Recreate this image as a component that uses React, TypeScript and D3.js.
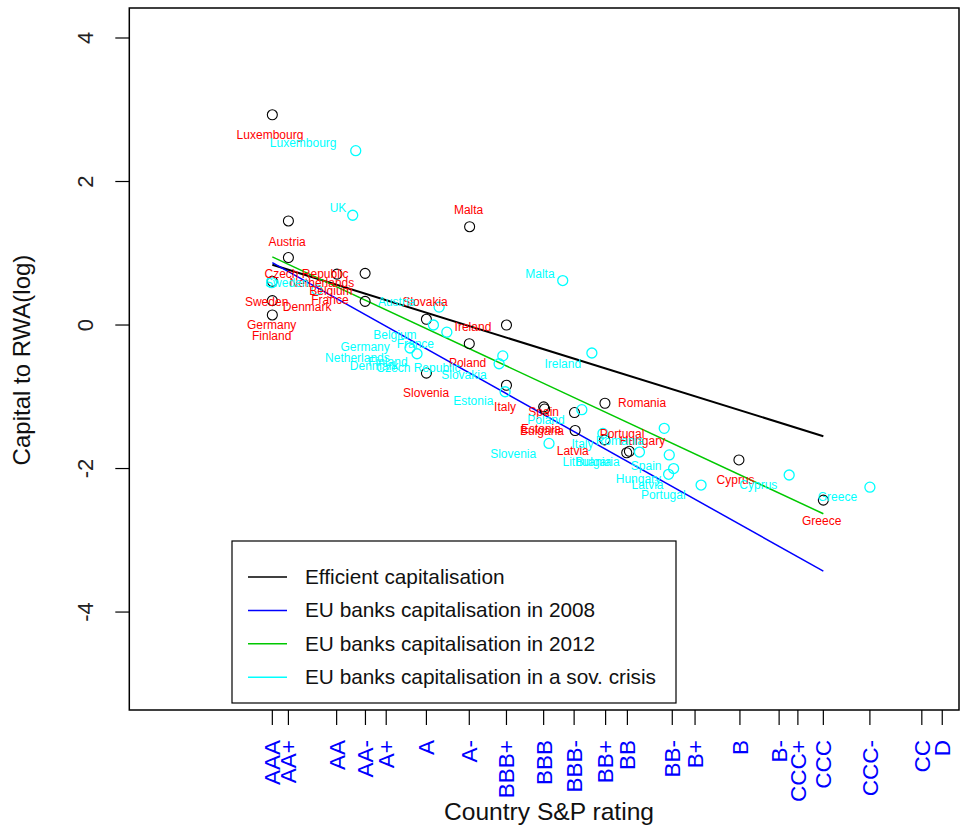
import React from "react";
import * as d3 from "d3";

// ---- Data ----
const ratingLabels = ["AAA","AA+","AA","AA-","A+","A","A-","BBB+","BBB","BBB-","BB+","BB","BB-","B+","B","B-","CCC+","CCC","CCC-","CC","D"];
const ratingScores = [0,0.48,1.92,2.78,3.40,4.60,5.88,6.99,8.10,9.01,9.95,10.60,11.94,12.62,13.96,15.13,15.69,16.45,17.84,19.39,20.00];

const yTicks = [-4,-2,0,2,4];

// Efficient capitalisation (black circles)
const effX = [0,0.48,0.48,0,0,0,1.93,2.77,2.77,4.60,4.60,5.89,5.88,6.99,6.99,8.10,8.13,9.02,9.04,9.93,9.92,10.58,10.66,13.93,16.45];
const effY = [2.93,1.45,0.94,0.61,0.34,0.14,0.71,0.72,0.33,0.08,-0.67,1.37,-0.26,0.00,-0.84,-1.14,-1.17,-1.22,-1.47,-1.09,-1.60,-1.78,-1.76,-1.88,-2.44];

// Country labels, 2008 (red)
const redNames = ["Luxembourg","Austria","Malta","Czech Republic","Netherlands","Belgium","France","Sweden","Denmark","Germany","Finland","Slovakia","Ireland","Poland","Slovenia","Italy","Spain","Estonia","Bulgaria","Romania","Portugal","Hungary","Latvia","Cyprus","Greece"];
const redX = [-0.07,0.44,5.86,1.02,1.48,1.75,1.72,-0.17,1.04,-0.02,-0.02,4.56,5.99,5.83,4.59,6.95,8.10,8.02,8.05,11.04,10.44,11.05,8.97,13.83,16.40];
const redY = [2.65,1.16,1.60,0.71,0.59,0.47,0.35,0.33,0.26,0.00,-0.15,0.33,-0.03,-0.53,-0.95,-1.14,-1.21,-1.44,-1.47,-1.09,-1.51,-1.61,-1.75,-2.16,-2.73];

// Sovereign crisis (cyan circles)
const sovX = [2.49,2.40,8.67,-0.02,1.33,4.98,4.81,5.21,4.11,4.32,6.88,6.77,9.54,6.95,8.26,9.24,9.87,10.96,11.70,11.85,11.98,11.83,12.80,15.43,17.84];
const sovY = [2.43,1.53,0.62,0.59,0.49,0.25,0.00,-0.10,-0.32,-0.40,-0.43,-0.54,-0.39,-0.93,-1.65,-1.18,-1.51,-1.77,-1.44,-1.81,-2.00,-2.08,-2.23,-2.09,-2.26];

// Country labels, sovereign crisis (cyan)
const cyanNames = ["Luxembourg","UK","Malta","Sweden","Austria","Belgium","Germany","France","Netherlands","Finland","Denmark","Czech Republic","Slovakia","Ireland","Estonia","Poland","Slovenia","Italy","Romania","Lithuania","Bulgaria","Spain","Hungary","Latvia","Portugal","Cyprus","Greece"];
const cyanX = [0.92,1.96,7.99,0.43,3.71,3.66,2.77,4.27,2.54,3.45,3.04,4.36,5.72,8.67,6.00,8.17,7.19,9.26,10.37,9.39,9.71,11.16,10.93,11.20,11.67,14.51,16.87];
const cyanY = [2.54,1.63,0.71,0.59,0.33,-0.14,-0.30,-0.26,-0.45,-0.51,-0.57,-0.59,-0.69,-0.54,-1.06,-1.32,-1.79,-1.65,-1.61,-1.90,-1.91,-1.96,-2.14,-2.23,-2.36,-2.23,-2.40];

// Fitted lines (from AAA to CCC)
const fitX = [0, 16.45];
const fitEfficient = [0.84, -1.55];
const fit2008 = [0.87, -3.43];
const fit2012 = [0.95, -2.63];

const legendLabels = ["Efficient capitalisation","EU banks capitalisation in 2008","EU banks capitalisation in 2012","EU banks capitalisation in a sov. crisis"];
const legendColors = ["#000000","#0000FF","#00C800","#00FFFF"];

export default function App() {
  const W = 961, H = 825;
  const left = 129.3, right = 959, top = 8, bottom = 710;
  const x = d3.scaleLinear().domain([-4.27, 20.5]).range([left, right]);
  const y = d3.scaleLinear().domain([-5.365, 4.418]).range([bottom, top]);
  const font = "'Liberation Sans', Arial, sans-serif";
  const line = d3.line<number>().x((_, i) => x(fitX[i])).y((d) => y(d));

  const fits = [
    { vals: fitEfficient, color: "#000000", w: 2 },
    { vals: fit2012, color: "#00C800", w: 1.5 },
    { vals: fit2008, color: "#0000FF", w: 1.5 },
  ];

  return (
    <svg width={W} height={H} style={{ position: "absolute", left: 0, top: 0, background: "#fff" }} fontFamily={font}>
      <rect x={0} y={0} width={W} height={H} fill="#fff" />
      {fits.map((f, i) => (
        <path key={i} d={line(f.vals) || ""} fill="none" stroke={f.color} strokeWidth={f.w} />
      ))}
      {effX.map((v, i) => (
        <circle key={"e" + i} cx={x(v)} cy={y(effY[i])} r={5} fill="none" stroke="#000" strokeWidth={1.1} />
      ))}
      {sovX.map((v, i) => (
        <circle key={"s" + i} cx={x(v)} cy={y(sovY[i])} r={5} fill="none" stroke="#00FFFF" strokeWidth={1.3} />
      ))}
      {redNames.map((n, i) => (
        <text key={"r" + i} x={x(redX[i])} y={y(redY[i])} dy="0.35em" textAnchor="middle" fontSize={12} fill="#FF0000">{n}</text>
      ))}
      {cyanNames.map((n, i) => (
        <text key={"c" + i} x={x(cyanX[i])} y={y(cyanY[i])} dy="0.35em" textAnchor="middle" fontSize={12} fill="#00FFFF">{n}</text>
      ))}
      <rect x={left} y={top} width={right - left} height={bottom - top} fill="none" stroke="#000" strokeWidth={1.5} />
      {yTicks.map((t) => (
        <g key={"yt" + t}>
          <line x1={left - 14} x2={left} y1={y(t)} y2={y(t)} stroke="#000" strokeWidth={1.2} />
          <text transform={`translate(93,${y(t)}) rotate(-90)`} textAnchor="middle" fontSize={22} fill="#222">{t}</text>
        </g>
      ))}
      <text transform={`translate(30,${360}) rotate(-90)`} textAnchor="middle" fontSize={24} fill="#111">Capital to RWA(log)</text>
      {ratingScores.map((s, i) => (
        <g key={"xt" + i}>
          <line x1={x(s)} x2={x(s)} y1={bottom} y2={bottom + 15} stroke="#000" strokeWidth={1.2} />
          <text transform={`translate(${x(s)},740) rotate(-90)`} textAnchor="end" dy="0.35em" fontSize={22.5} fill="#0000FF">{ratingLabels[i]}</text>
        </g>
      ))}
      <text x={549} y={820} textAnchor="middle" fontSize={24.6} fill="#111">Country S&amp;P rating</text>
      <rect x={232} y={541} width={444} height={162} fill="#fff" stroke="#000" strokeWidth={1.2} />
      {legendLabels.map((l, i) => (
        <g key={"lg" + i}>
          <line x1={248} x2={287} y1={577 + i * 33.4} y2={577 + i * 33.4} stroke={legendColors[i]} strokeWidth={1.5} />
          <text x={305} y={584 + i * 33.4} fontSize={20.8} fill="#111">{l}</text>
        </g>
      ))}
    </svg>
  );
}
